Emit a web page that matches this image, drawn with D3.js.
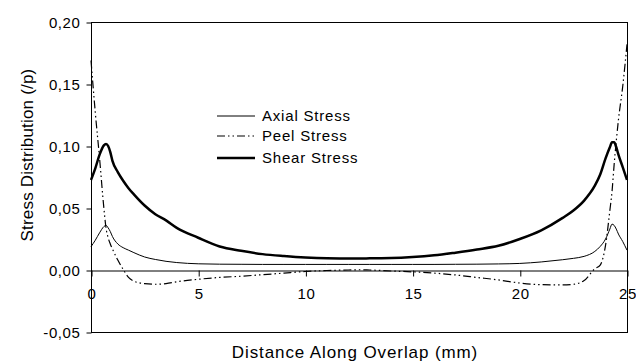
<!DOCTYPE html>
<html>
<head>
<meta charset="utf-8">
<script src="https://cdn.jsdelivr.net/npm/d3@7"></script>
<style>
  html, body { margin: 0; padding: 0; background: #fff; }
  svg { display: block; font-family: "Liberation Sans", Arial, sans-serif; }
</style>
</head>
<body>
<svg id="chart" width="636" height="364"></svg>
<script>
// ---- data ----
const xValues = [0, 0.2, 0.4, 0.6, 0.7, 0.8, 0.9, 1.0, 1.25, 1.5, 1.75, 2, 2.5, 3, 3.5, 4, 5, 6, 7, 8, 9, 10, 11, 12, 12.5, 13, 14, 15, 16, 17, 18, 19, 20, 21, 22, 22.5, 23, 23.5, 23.75, 24, 24.2, 24.3, 24.4, 24.5, 24.6, 24.8, 25];
const axialStress = [0.0188, 0.024, 0.030, 0.035, 0.036, 0.034, 0.031, 0.027, 0.021, 0.018, 0.016, 0.014, 0.0105, 0.0085, 0.007, 0.006, 0.005, 0.0047, 0.0046, 0.0045, 0.0045, 0.0045, 0.0045, 0.0045, 0.0045, 0.0045, 0.0045, 0.0045, 0.0045, 0.0046, 0.0047, 0.0049, 0.0053, 0.0065, 0.0083, 0.0094, 0.011, 0.015, 0.019, 0.025, 0.033, 0.037, 0.036, 0.033, 0.029, 0.023, 0.016];
const peelStress = [0.169, 0.127, 0.090, 0.050, 0.034, 0.026, 0.021, 0.017, 0.008, 0.0005, -0.006, -0.009, -0.011, -0.0115, -0.011, -0.0095, -0.0075, -0.006, -0.005, -0.0038, -0.0025, -0.0012, -0.0004, 0, 0.0002, 0, -0.0008, -0.0015, -0.0025, -0.004, -0.006, -0.008, -0.0105, -0.0118, -0.012, -0.0115, -0.0085, 0.001, 0.004, 0.02, 0.048, 0.063, 0.085, 0.104, 0.121, 0.148, 0.182];
const shearStress = [0.0726, 0.082, 0.093, 0.1005, 0.1016, 0.100, 0.095, 0.088, 0.079, 0.072, 0.066, 0.061, 0.052, 0.045, 0.040, 0.034, 0.026, 0.019, 0.0155, 0.0128, 0.0112, 0.0100, 0.0094, 0.0093, 0.0093, 0.0094, 0.0096, 0.0104, 0.0118, 0.014, 0.0165, 0.0195, 0.025, 0.032, 0.042, 0.048, 0.056, 0.068, 0.077, 0.090, 0.099, 0.1030, 0.1030, 0.099, 0.093, 0.083, 0.0726];
const xTicks = [0, 5, 10, 15, 20, 25];
const yTicks = [-0.05, 0, 0.05, 0.10, 0.15, 0.20];
const seriesNames = ["Axial Stress", "Peel Stress", "Shear Stress"];
const xTitle = "Distance Along Overlap (mm)";
const yTitle = "Stress Distribution (/p)";

// ---- layout ----
const W = 636, H = 364;
const margin = { left: 91, top: 22, right: 9, bottom: 32 };
const svg = d3.select("#chart");
const x = d3.scaleLinear().domain([0, 25]).range([margin.left, W - margin.right]);
const y = d3.scaleLinear().domain([-0.05, 0.20]).range([H - margin.bottom, margin.top]);

const fmt = d => d3.format(".2f")(d).replace(".", ",").replace("\u2212", "-");

// frame
svg.append("rect")
  .attr("x", x(0) + 0.5).attr("y", y(0.2) + 0.5)
  .attr("width", x(25) - x(0)).attr("height", y(-0.05) - y(0.2))
  .attr("fill", "none").attr("stroke", "#000").attr("stroke-width", 1);

// y axis
const gy = svg.append("g").attr("transform", `translate(${x(0) + 0.5},0.5)`)
  .call(d3.axisLeft(y).tickValues(yTicks).tickFormat(fmt).tickSize(5).tickPadding(6));
gy.select(".domain").remove();
gy.selectAll("text").attr("font-size", 15).attr("fill", "#000").attr("letter-spacing", 0.6)
  .attr("font-family", "Liberation Sans, Arial, sans-serif");
gy.selectAll("line").attr("stroke", "#000");

// x axis at zero
const gx = svg.append("g").attr("transform", `translate(0.5,${y(0) + 0.5})`)
  .call(d3.axisBottom(x).tickValues(xTicks).tickFormat(d3.format("d")).tickSize(6).tickSizeOuter(0).tickPadding(12));
gx.select(".domain").attr("stroke", "#000");
gx.selectAll("text").attr("font-size", 15).attr("fill", "#000").attr("letter-spacing", 0.6)
  .attr("font-family", "Liberation Sans, Arial, sans-serif");
gx.selectAll("line").attr("stroke", "#000");

// lines
const rows = xValues.map((xv, i) => ({ x: xv, a: axialStress[i], p: peelStress[i], s: shearStress[i] }));
const mk = key => d3.line().x(d => x(d.x)).y(d => y(d[key])).curve(d3.curveMonotoneX);
const styles = [
  { key: "a", width: 1, dash: null },
  { key: "p", width: 1.2, dash: "8,3,1.5,3,1.5,3" },
  { key: "s", width: 2.5, dash: null }
];
styles.forEach(st => {
  svg.append("path").datum(rows)
    .attr("d", mk(st.key))
    .attr("fill", "none").attr("stroke", "#000")
    .attr("stroke-width", st.width)
    .attr("stroke-dasharray", st.dash)
    .attr("stroke-linejoin", "round");
});

// legend
const legY = [116, 136, 158];
const leg = svg.append("g");
seriesNames.forEach((name, i) => {
  const st = styles[i];
  leg.append("line").attr("x1", 217).attr("x2", 255).attr("y1", legY[i]).attr("y2", legY[i])
    .attr("stroke", "#000").attr("stroke-width", st.width).attr("stroke-dasharray", st.dash);
  leg.append("text").attr("x", 262).attr("y", legY[i]).attr("dy", "0.36em")
    .attr("font-size", 15).attr("letter-spacing", 0.8).attr("fill", "#000").text(name);
});

// titles
svg.append("text").attr("x", 355).attr("y", 358).attr("text-anchor", "middle")
  .attr("font-size", 17).attr("letter-spacing", 0.9).attr("fill", "#000").text(xTitle);
svg.append("text").attr("transform", `translate(33,155) rotate(-90)`).attr("text-anchor", "middle")
  .attr("font-size", 17).attr("letter-spacing", 0.2).attr("fill", "#000").text(yTitle);
</script>
</body>
</html>
